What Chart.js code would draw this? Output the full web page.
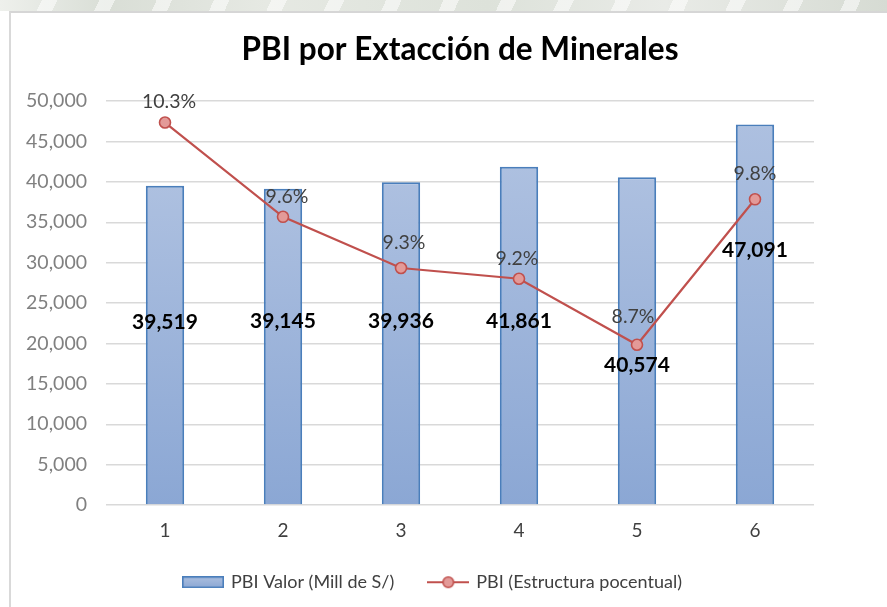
<!DOCTYPE html>
<html>
<head>
<meta charset="utf-8">
<script src="https://cdn.jsdelivr.net/npm/chart.js@4/dist/chart.umd.min.js"></script>
<style>
  html, body { margin: 0; padding: 0; background: #ffffff; }
  #wrap { position: relative; width: 887px; height: 607px; overflow: hidden; }
  #band {
    position: absolute; left: 0; top: 0; width: 887px; height: 11px;
    background:
      repeating-linear-gradient(115deg, rgba(255,255,255,0) 0px, rgba(255,255,255,0) 38px,
        rgba(255,255,255,0.55) 38px, rgba(255,255,255,0.55) 52px),
      linear-gradient(90deg, #eef0ec 0%, #d9ded6 12%, #e6e9e3 30%, #dde2da 55%, #e9ebe7 75%, #d6dbd3 100%);
  }
  #frame {
    position: absolute; left: 9px; top: 11px; width: 900px; height: 620px;
    border-left: 2px solid #d9d9d9; border-top: 2px solid #d6d6d6; background: #ffffff;
  }
  canvas { position: absolute; left: 0; top: 0; }
</style>
</head>
<body>
<div id="wrap">
  <div id="band"></div>
  <div id="frame"></div>
  <canvas id="chart" width="887" height="607"></canvas>
</div>
<script>
// Categories and series
const categories = ['1', '2', '3', '4', '5', '6'];
const pbiValor = [39519, 39145, 39936, 41861, 40574, 47091];          // Mill de S/
const pbiEstructura = [10.34, 9.64, 9.26, 9.18, 8.69, 9.77];          // % share
const valorTicks = [0, 5000, 10000, 15000, 20000, 25000, 30000, 35000, 40000, 45000, 50000];

const FONT = 'Lato';
const fmtInt = v => v.toLocaleString('en-US');

// Colours
const BAR_TOP = '#adc0e0';
const BAR_BOTTOM = '#8ba7d4';
const BAR_BORDER = '#4a7ebb';
const LINE_RED = '#c0504d';
const POINT_FILL = '#e39a98';

// Legend swatches drawn on small canvases
function makeBarSwatch() {
  const c = document.createElement('canvas');
  c.width = 42; c.height = 12;
  const g = c.getContext('2d');
  const grad = g.createLinearGradient(0, 0, 0, 12);
  grad.addColorStop(0, BAR_TOP);
  grad.addColorStop(1, BAR_BOTTOM);
  g.fillStyle = grad;
  g.fillRect(0, 0, 42, 12);
  g.strokeStyle = BAR_BORDER;
  g.lineWidth = 1.6;
  g.strokeRect(0.8, 0.8, 40.4, 10.4);
  return c;
}
function makeLineSwatch() {
  const c = document.createElement('canvas');
  c.width = 42; c.height = 14;
  const g = c.getContext('2d');
  g.strokeStyle = LINE_RED;
  g.lineWidth = 2.2;
  g.beginPath(); g.moveTo(0, 7); g.lineTo(42, 7); g.stroke();
  g.beginPath(); g.arc(21, 7, 5.3, 0, Math.PI * 2);
  g.fillStyle = POINT_FILL; g.fill();
  g.lineWidth = 1.6; g.stroke();
  return c;
}

// Vertical gradient per bar, from its top down to the baseline
function barGradient(context) {
  const chart = context.chart;
  const y = chart.scales.y;
  if (!y || context.parsed === undefined) return BAR_BOTTOM;
  const top = y.getPixelForValue(context.parsed.y);
  const base = y.getPixelForValue(0);
  if (!isFinite(top) || !isFinite(base) || top === base) return BAR_BOTTOM;
  const grad = chart.ctx.createLinearGradient(0, top, 0, base);
  grad.addColorStop(0, BAR_TOP);
  grad.addColorStop(1, BAR_BOTTOM);
  return grad;
}

// Value labels for bars and percentage labels for the line points
const valueLabels = {
  id: 'valueLabels',
  afterDatasetsDraw(chart, args, opts) {
    const ctx = chart.ctx;
    const bars = chart.getDatasetMeta(1).data;
    const pts = chart.getDatasetMeta(0).data;
    ctx.save();
    ctx.textAlign = 'center';
    ctx.textBaseline = 'middle';
    ctx.font = 'bold 21px ' + FONT;
    ctx.fillStyle = '#000000';
    bars.forEach((bar, i) => {
      const mid = (bar.y + bar.base) / 2;
      ctx.fillText(fmtInt(pbiValor[i]), bar.x + opts.barDx[i], mid + opts.barDy[i]);
    });
    ctx.font = '19.5px ' + FONT;
    ctx.fillStyle = '#404040';
    pts.forEach((p, i) => {
      ctx.fillText(pbiEstructura[i].toFixed(1) + '%', p.x + opts.pctDx[i], p.y + opts.pctDy[i]);
    });
    ctx.restore();
  }
};

// Nudges the legend block after layout
const legendNudge = {
  id: 'legendNudge',
  afterLayout(chart, args, opts) {
    const lg = chart.legend;
    if (!lg) return;
    lg.left += opts.dx; lg.right += opts.dx;
    lg.top += opts.dy; lg.bottom += opts.dy;
  }
};

const barSwatch = makeBarSwatch();
const lineSwatch = makeLineSwatch();

new Chart(document.getElementById('chart'), {
  data: {
    labels: categories,
    datasets: [
      {
        type: 'line',
        label: 'PBI (Estructura pocentual)',
        data: pbiEstructura,
        yAxisID: 'y2',
        order: 0,
        borderColor: LINE_RED,
        borderWidth: 2.2,
        pointRadius: 5.5,
        pointBorderWidth: 1.6,
        pointBackgroundColor: POINT_FILL,
        pointBorderColor: LINE_RED,
        tension: 0
      },
      {
        type: 'bar',
        label: 'PBI Valor (Mill de S/)',
        data: pbiValor,
        yAxisID: 'y',
        order: 1,
        backgroundColor: barGradient,
        borderColor: BAR_BORDER,
        borderWidth: 2,
        barPercentage: 1,
        categoryPercentage: 0.325
      }
    ]
  },
  options: {
    responsive: false,
    animation: false,
    layout: { padding: { left: 0, right: 73, top: 0, bottom: 0.5 } },
    scales: {
      x: {
        grid: { display: false, drawTicks: false },
        border: { display: false },
        ticks: { color: '#404040', font: { family: FONT, size: 19 }, padding: 14 },
        afterFit: s => { s.height = 38.5; }
      },
      y: {
        position: 'left',
        min: 0,
        max: 50000,
        afterBuildTicks: s => { s.ticks = valorTicks.map(v => ({ value: v })); },
        grid: { color: '#d9d9d9', lineWidth: 1.4, drawTicks: false },
        border: { display: false },
        ticks: {
          color: '#808080',
          font: { family: FONT, size: 19.5 },
          padding: 19,
          callback: v => fmtInt(v)
        },
        afterFit: s => { s.width = 106; }
      },
      y2: {
        display: false,
        position: 'right',
        min: 7.5,
        max: 10.5
      }
    },
    plugins: {
      title: {
        display: true,
        text: 'PBI por Extacción de Minerales',
        fullSize: false,
        color: '#000000',
        font: { family: FONT, size: 31.5, weight: 'bold' },
        padding: { top: 31.1, bottom: 32.1 }
      },
      legend: {
        position: 'bottom',
        fullSize: false,
        labels: {
          usePointStyle: true,
          pointStyleWidth: 38,
          padding: 35,
          color: '#404040',
          font: { family: FONT, size: 18 },
          generateLabels: () => [
            { text: 'PBI Valor (Mill de S/)', pointStyle: barSwatch, fontColor: '#404040',
              fillStyle: 'transparent', strokeStyle: 'transparent', lineWidth: 0, hidden: false, datasetIndex: 1 },
            { text: 'PBI (Estructura pocentual)', pointStyle: lineSwatch, fontColor: '#404040',
              fillStyle: 'transparent', strokeStyle: 'transparent', lineWidth: 0, hidden: false, datasetIndex: 0 }
          ]
        }
      },
      legendNudge: { dx: -27, dy: -5.25 },
      tooltip: { enabled: false },
      valueLabels: {
        barDx: [0, 0, 0, 0, 0, 0],
        barDy: [-23, -25, -22, -14, 25, -64],
        pctDx: [4, 4, 3, -2, -4, 0],
        pctDy: [-21, -20, -25, -20, -28, -26]
      }
    }
  },
  plugins: [valueLabels, legendNudge]
});
</script>
</body>
</html>
